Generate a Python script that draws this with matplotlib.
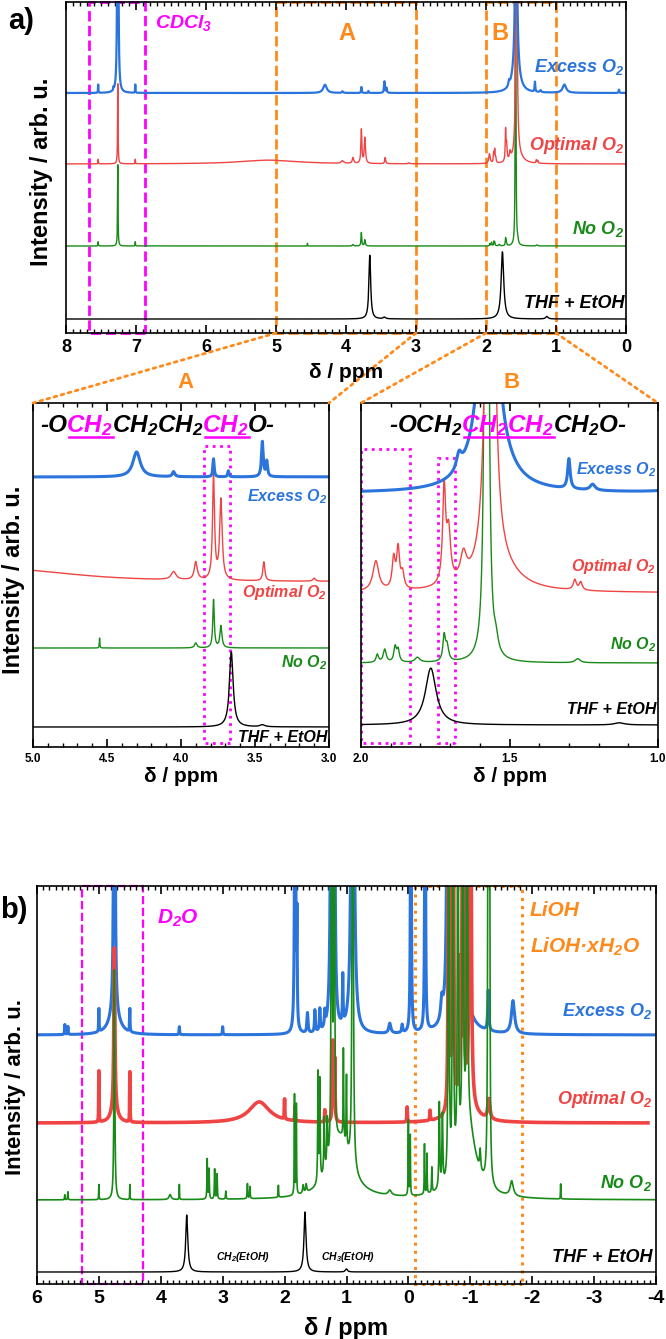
import numpy as np
import matplotlib
matplotlib.use('Agg')
import matplotlib.pyplot as plt
from matplotlib.patches import Rectangle, ConnectionPatch
from matplotlib.lines import Line2D
from matplotlib.ticker import MultipleLocator, FormatStrFormatter

plt.rcParams['font.family'] = ['Liberation Sans', 'DejaVu Sans']
plt.rcParams['font.weight'] = 'bold'
plt.rcParams['mathtext.default'] = 'regular'
plt.rcParams['axes.unicode_minus'] = False
plt.rcParams['axes.linewidth'] = 1.2

W, H = 666, 1339

# ── Colours ──
BLUE = '#2a74dc'
RED = '#f04444'
GREEN = '#188a18'
BLACK = '#000000'
MAGENTA = '#ff00ff'
ORANGE = '#ff8a1c'

samples = ['Excess O$_2$', 'Optimal O$_2$', 'No O$_2$', 'THF + EtOH']
colors = [BLUE, RED, GREEN, BLACK]

# ══════════════════════════════════════════════════════════════════════
#  (a) 1H NMR in CDCl3 — peak lists (ppm, height, half width)
# ══════════════════════════════════════════════════════════════════════
excess_ppm = [7.54, 7.32, 7.26, 7.01, 4.30, 4.05, 3.78, 3.68, 3.45, 3.42,
              1.67, 1.57, 1.57, 1.30, 1.22, 0.88, 0.10]
excess_h   = [25, 8, 3000, 25, 25, 5, 18, 6, 35, 15,
              15, 1000, 91, 30, 6, 25, 10]
excess_w   = [0.003, 0.003, 0.004, 0.003, 0.03, 0.01, 0.005, 0.005, 0.007, 0.006,
              0.01, 0.01, 0.049, 0.005, 0.01, 0.03, 0.005]

optimal_ppm = [7.54, 7.26, 7.01, 5.10, 4.05, 3.90, 3.78, 3.73, 3.44, 3.10,
               1.95, 1.89, 1.875, 1.86, 1.72, 1.705, 1.655, 1.565, 1.53, 1.28, 1.26]
optimal_h   = [14, 250, 14, 12, 8, 18, 105, 80, 19, 3,
               30, 30, 40, 15, 95, 50, 25, 1000, 18, 10, 8]
optimal_w   = [0.003, 0.004, 0.003, 0.5, 0.02, 0.012, 0.008, 0.01, 0.008, 0.01,
               0.012, 0.006, 0.006, 0.006, 0.006, 0.008, 0.012, 0.01, 0.08, 0.006, 0.006]

noo2_ppm = [7.54, 7.26, 7.01, 4.55, 3.90, 3.78, 3.73, 1.945, 1.92, 1.885,
            1.875, 1.81, 1.72, 1.71, 1.577, 1.545, 1.27]
noo2_h   = [15, 290, 15, 10, 5, 48, 22, 8, 13, 15,
            12, 5, 25, 15, 3000, 12, 4]
noo2_w   = [0.003, 0.004, 0.003, 0.002, 0.01, 0.006, 0.008, 0.005, 0.006, 0.005,
            0.005, 0.01, 0.005, 0.006, 0.003, 0.008, 0.01]

ref_ppm = [3.66, 3.45, 1.765, 1.13]
ref_h   = [75, 2, 79, 3]
ref_w   = [0.015, 0.02, 0.022, 0.02]

# ══════════════════════════════════════════════════════════════════════
#  (b) 1H NMR in D2O — peak lists (ppm, height, half width)
# ══════════════════════════════════════════════════════════════════════
b_excess_ppm = [5.55, 5.50, 5.00, 4.75, 4.75, 4.50, 3.70, 3.00, 1.83, 1.80,
                1.63, 1.51, 1.43, 1.35, 1.24, 1.20, 1.06, 0.90, 0.30, 0.10,
                -0.04, -0.27, -0.54, -0.64, -0.72, -0.80, -0.88, -0.85, -1.29, -1.69]
b_excess_h   = [10, 8, 23, 3000, 20, 23, 8, 8, 800, 100,
                20, 22, 22, 15, 1500, 800, 48, 1500, 10, 8,
                500, 500, 20, 1000, 1500, 1000, 1000, 40, 40, 33]
b_excess_w   = [0.005, 0.005, 0.004, 0.004, 0.1, 0.004, 0.005, 0.005, 0.006, 0.005,
                0.01, 0.008, 0.008, 0.008, 0.008, 0.008, 0.006, 0.012, 0.02, 0.01,
                0.006, 0.006, 0.02, 0.01, 0.01, 0.01, 0.01, 0.12, 0.01, 0.03]

b_optimal_ppm = [5.00, 4.75, 4.75, 4.50, 2.41, 2.00, 1.83, 1.35, 1.22, 1.19,
                 0.02, -0.35, -0.65, -0.72, -0.83, -0.88, -1.00, -0.90, -1.30]
b_optimal_h   = [51, 160, 15, 50, 21, 20, 15, 12, 80, 60,
                 15, 10, 400, 800, 120, 800, 1200, 25, 20]
b_optimal_w   = [0.003, 0.01, 0.06, 0.003, 0.2, 0.004, 0.004, 0.005, 0.008, 0.006,
                 0.004, 0.005, 0.008, 0.008, 0.006, 0.008, 0.008, 0.15, 0.02]

b_noo2_ppm = [5.55, 5.50, 5.00, 4.75, 4.50, 3.85, 3.70, 3.25, 3.22, 3.13,
              3.09, 2.95, 2.60, 2.56, 2.10, 1.84, 1.81, 1.70, 1.65, 1.46,
              1.43, 1.36, 1.31, 1.24, 1.20, 1.05, 1.00, 0.90, 1.10, 0.30,
              0.00, -0.03, -0.26, -0.30, -0.38, -0.50, -0.55, -0.65, -0.72, -0.80,
              -0.88, -0.95, -0.95, -1.16, -1.29, -1.31, -1.67, -2.46]
b_noo2_h   = [5, 8, 15, 230, 15, 5, 15, 40, 30, 30,
              25, 8, 15, 12, 12, 100, 90, 8, 8, 110,
              100, 55, 45, 800, 800, 90, 70, 800, 60, 5,
              75, 60, 50, 40, 25, 85, 70, 800, 900, 800,
              900, 800, 80, 20, 900, 600, 15, 15]
b_noo2_w   = [0.004, 0.004, 0.003, 0.008, 0.003, 0.02, 0.003, 0.005, 0.005, 0.005,
              0.005, 0.005, 0.005, 0.005, 0.004, 0.004, 0.004, 0.01, 0.01, 0.006,
              0.006, 0.008, 0.008, 0.006, 0.006, 0.005, 0.005, 0.008, 0.2, 0.03,
              0.004, 0.004, 0.004, 0.004, 0.005, 0.008, 0.008, 0.006, 0.006, 0.006,
              0.006, 0.006, 0.15, 0.01, 0.006, 0.006, 0.03, 0.003]

b_ref_ppm = [3.58, 1.67, 1.00]
b_ref_h   = [57, 60, 3]
b_ref_w   = [0.02, 0.02, 0.02]


def lorentz(x, ppm, h, w):
    ppm, h, w = np.asarray(ppm), np.asarray(h), np.asarray(w)
    d = x[:, None] - ppm[None, :]
    return (h * w**2 / (d**2 + w**2)).sum(axis=1)


def px_axes(left, top, right, bottom):
    return fig.add_axes([left / W, 1 - bottom / H, (right - left) / W, (bottom - top) / H])


def ftext(x, y, s, **kw):
    kw.setdefault('va', 'center')
    return fig.text(x / W, 1 - y / H, s, **kw)


def style_axis(ax, major, minor, labelsize, fmt):
    ax.xaxis.set_major_locator(MultipleLocator(major))
    ax.xaxis.set_minor_locator(MultipleLocator(minor))
    ax.xaxis.set_major_formatter(FormatStrFormatter(fmt))
    ax.tick_params(axis='x', which='both', direction='in', top=True, bottom=True)
    ax.tick_params(axis='x', which='major', length=6, width=1.2, labelsize=labelsize, pad=4)
    ax.tick_params(axis='x', which='minor', length=3, width=1)
    ax.set_yticks([])
    for lab in ax.get_xticklabels():
        lab.set_fontweight('bold')


fig = plt.figure(figsize=(W / 100, H / 100), dpi=100)
fig.patch.set_facecolor('white')

xa = np.linspace(0, 8, 40001)
spec_a = [lorentz(xa, excess_ppm, excess_h, excess_w),
          lorentz(xa, optimal_ppm, optimal_h, optimal_w),
          lorentz(xa, noo2_ppm, noo2_h, noo2_w),
          lorentz(xa, ref_ppm, ref_h, ref_w)]

# ── top overview (a) ──
ax = px_axes(66, 2, 626, 333)
hgt = 331
base = [240, 169, 87, 14]
scale = [0.33, 0.32, 0.28, 0.85]
lws = [1.6, 1.0, 1.0, 1.0]
for i in [3, 2, 1, 0]:
    ax.plot(xa, base[i] + scale[i] * spec_a[i], color=colors[i], lw=lws[i])
ax.set_xlim(8, 0)
ax.set_ylim(0, hgt)
style_axis(ax, 1, 0.1, 13, '%d')
ax.add_patch(Rectangle((6.87, 0), 0.80, hgt, fill=False, ec=MAGENTA, ls='--', lw=2, clip_on=False))
ax.add_patch(Rectangle((3.0, 0), 2.0, hgt, fill=False, ec=ORANGE, ls='--', lw=2, clip_on=False))
ax.add_patch(Rectangle((1.0, 0), 1.0, hgt, fill=False, ec=ORANGE, ls='--', lw=2, clip_on=False))
ax_top = ax
ytop = [67, 146, 229, 303]
for i in range(4):
    ftext(624, ytop[i], samples[i], color=colors[i], fontsize=13, fontstyle='italic',
          fontweight='bold', ha='right')
ftext(155, 23, 'CDCl$_3$', color=MAGENTA, fontsize=14, fontstyle='italic', fontweight='bold')
ftext(347, 33, 'A', color=ORANGE, fontsize=17, fontweight='bold', ha='center')
ftext(500, 33, 'B', color=ORANGE, fontsize=17, fontweight='bold', ha='center')
ftext(346, 373, 'δ / ppm', fontsize=15, fontweight='bold', ha='center')
ftext(8, 21, 'a)', fontsize=21, fontweight='bold', ha='left')
ftext(42, 172, 'Intensity / arb. u.', fontsize=17, fontweight='bold', rotation=90, ha='center')

# ── inset A ──
axA = px_axes(33, 403, 329, 747)
hA = 344
baseA = [270, 165, 99, 20]
lwsA = [2.2, 1.0, 1.0, 1.0]
for i in [3, 2, 1, 0]:
    axA.plot(xa, baseA[i] + spec_a[i], color=colors[i], lw=lwsA[i])
axA.set_xlim(5.0, 3.0)
axA.set_ylim(0, hA)
style_axis(axA, 0.5, 0.1, 8.5, '%.1f')
axA.add_patch(Rectangle((3.67, 4), 0.175, 297, fill=False, ec=MAGENTA, ls=':', lw=2))
yA = [497, 593, 663, 737]
for i in range(4):
    ftext(327, yA[i], samples[i], color=colors[i], fontsize=11.5, fontstyle='italic',
          fontweight='bold', ha='right')
ftext(186, 382, 'A', color=ORANGE, fontsize=16, fontweight='bold', ha='center')
ftext(181, 777, 'δ / ppm', fontsize=15, fontweight='bold', ha='center')
ftext(14, 580, 'Intensity / arb. u.', fontsize=17, fontweight='bold', rotation=90, ha='center')

# ── inset B ──
axB = px_axes(361, 403, 658, 747)
baseB = [254, 154, 84, 22]
scaleB = [1, 1, 1, 0.72]
for i in [3, 2, 1, 0]:
    axB.plot(xa, baseB[i] + scaleB[i] * spec_a[i], color=colors[i], lw=lwsA[i])
axB.set_xlim(2.0, 1.0)
axB.set_ylim(0, hA)
style_axis(axB, 0.5, 0.1, 8.5, '%.1f')
axB.add_patch(Rectangle((1.835, 4), 0.165, 294, fill=False, ec=MAGENTA, ls=':', lw=2))
axB.add_patch(Rectangle((1.683, 4), 0.059, 285, fill=False, ec=MAGENTA, ls=':', lw=2))
yB = [470, 567, 645, 710]
for i in range(4):
    ftext(656, yB[i], samples[i], color=colors[i], fontsize=11.5, fontstyle='italic',
          fontweight='bold', ha='right')
ftext(512, 382, 'B', color=ORANGE, fontsize=16, fontweight='bold', ha='center')
ftext(510, 777, 'δ / ppm', fontsize=15, fontweight='bold', ha='center')

# zoom connectors
for (x0, axi, xi) in [(5.0, axA, 5.0), (3.0, axA, 3.0), (2.0, axB, 2.0), (1.0, axB, 1.0)]:
    fig.add_artist(ConnectionPatch(xyA=(x0, 0), coordsA=ax_top.transData,
                                   xyB=(xi, hA), coordsB=axi.transData,
                                   color=ORANGE, ls=':', lw=2))


# formulas with underlined protons
def formula(x0, y0, parts, size):
    renderer = fig.canvas.get_renderer()
    x = x0
    for s, c, ul in parts:
        t = ftext(x, y0, s, color=c, fontsize=size, fontstyle='italic',
                  fontweight='bold', ha='left')
        bb = t.get_window_extent(renderer)
        if ul:
            yl = (bb.y0 + 1) / H
            fig.add_artist(Line2D([bb.x0 / W + 0.004, bb.x1 / W], [yl, yl], color=c, lw=1.8))
        x += bb.width - 1


formula(40, 426, [('-O', BLACK, False), ('CH$_2$', MAGENTA, True),
                  ('CH$_2$CH$_2$', BLACK, False), ('CH$_2$', MAGENTA, True),
                  ('O-', BLACK, False)], 17.5)
formula(389, 426, [('-OCH$_2$', BLACK, False), ('CH$_2$', MAGENTA, True),
                   ('CH$_2$', MAGENTA, True), ('CH$_2$O-', BLACK, False)], 17.5)

# ══════════════════════════════════════════════════════════════════════
#  (b) D2O
# ══════════════════════════════════════════════════════════════════════
xb = np.linspace(-4, 6, 40001)
spec_b = [lorentz(xb, b_excess_ppm, b_excess_h, b_excess_w),
          lorentz(xb, b_optimal_ppm, b_optimal_h, b_optimal_w),
          lorentz(xb, b_noo2_ppm, b_noo2_h, b_noo2_w),
          lorentz(xb, b_ref_ppm, b_ref_h, b_ref_w)]
axb = px_axes(37, 886, 656, 1284)
hb = 398
baseb = [249, 161, 84, 12]
red_mask = xb >= -3.87
axb.plot(xb, baseb[3] + spec_b[3], color=BLACK, lw=1.0)
axb.plot(xb, baseb[0] + spec_b[0], color=BLUE, lw=2.2)
axb.plot(xb[red_mask], baseb[1] + spec_b[1][red_mask], color=RED, lw=2.6)
axb.plot(xb, baseb[2] + spec_b[2], color=GREEN, lw=1.2)
axb.set_xlim(6, -4)
axb.set_ylim(0, hb)
style_axis(axb, 1, 0.1, 14, '%d')
axb.add_patch(Rectangle((4.28, 0), 0.99, hb, fill=False, ec=MAGENTA, ls='--', lw=1.6, clip_on=False))
axb.add_patch(Rectangle((-1.83, 0), 1.72, hb, fill=False, ec=ORANGE, ls=':', lw=2.2, clip_on=False))
yb = [1011, 1100, 1183, 1257]
for i in range(4):
    ftext(652, yb[i], samples[i], color=colors[i], fontsize=13, fontstyle='italic',
          fontweight='bold', ha='right')
axb.text(2.67, baseb[3] + 8, 'CH$_2$(EtOH)', fontsize=7.5, fontstyle='italic',
         fontweight='bold', ha='center', va='bottom')
axb.text(0.97, baseb[3] + 8, 'CH$_3$(EtOH)', fontsize=7.5, fontstyle='italic',
         fontweight='bold', ha='center', va='bottom')
ftext(157, 918, 'D$_2$O', color=MAGENTA, fontsize=15, fontstyle='italic', fontweight='bold')
ftext(530, 910, 'LiOH', color=ORANGE, fontsize=15, fontstyle='italic', fontweight='bold')
ftext(530, 947, 'LiOH·xH$_2$O', color=ORANGE, fontsize=15, fontstyle='italic', fontweight='bold')
ftext(346, 1328, 'δ / ppm', fontsize=17, fontweight='bold', ha='center')
ftext(0, 910, 'b)', fontsize=21, fontweight='bold', ha='left')
ftext(16, 1087, 'Intensity / arb. u.', fontsize=16, fontweight='bold', rotation=90, ha='center')

fig.savefig('out.png', dpi=100)
